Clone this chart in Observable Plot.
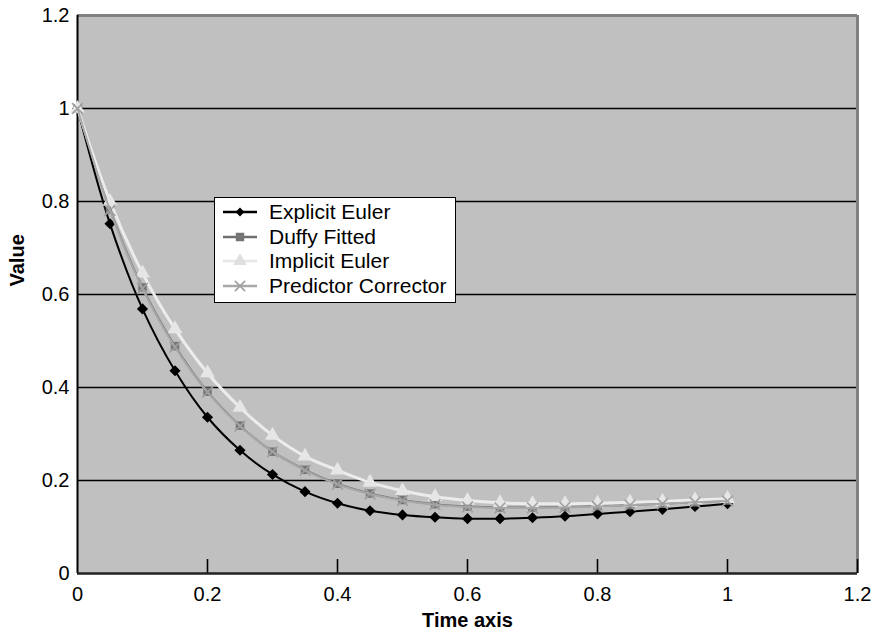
<!DOCTYPE html>
<html><head><meta charset="utf-8">
<script src="https://cdn.jsdelivr.net/npm/d3@7"></script>
<script src="https://cdn.jsdelivr.net/npm/@observablehq/plot@0.6"></script>
<style>
body{margin:0;background:#fff;font-family:"Liberation Sans",Arial,sans-serif}
#wrap{position:relative;width:875px;height:638px}
#legend{position:absolute;left:214px;top:197px;width:240px;height:102px;background:#fff;border:1.5px solid #000;padding-top:2px;box-sizing:content-box}
#legend .row{height:24.5px;display:flex;align-items:center;font-size:21px;color:#000;white-space:nowrap}
#legend svg{margin-left:8px;margin-right:12px;flex:none}
</style></head>
<body><div id="wrap"><div id="chart"></div><div id="legend"></div></div>
<script>
const times = [0,0.05,0.1,0.15,0.2,0.25,0.3,0.35,0.4,0.45,0.5,0.55,0.6,0.65,0.7,0.75,0.8,0.85,0.9,0.95,1];
const explicitEuler = [1,0.752,0.569,0.436,0.336,0.265,0.213,0.176,0.151,0.135,0.126,0.121,0.118,0.118,0.120,0.123,0.128,0.133,0.138,0.144,0.150];
const duffyFitted  = [1,0.783,0.615,0.489,0.391,0.318,0.262,0.223,0.193,0.172,0.158,0.149,0.144,0.142,0.142,0.143,0.145,0.147,0.150,0.153,0.157];
const implicitEuler = [1,0.800,0.646,0.526,0.431,0.357,0.297,0.252,0.222,0.196,0.178,0.165,0.157,0.152,0.150,0.150,0.151,0.153,0.155,0.158,0.161];
const predictorCorrector = [1,0.781,0.613,0.487,0.390,0.317,0.262,0.222,0.192,0.171,0.157,0.148,0.143,0.141,0.141,0.142,0.144,0.147,0.150,0.153,0.156];
const seriesNames = ["Explicit Euler","Duffy Fitted","Implicit Euler","Predictor Corrector"];
const xTicks = [0,0.2,0.4,0.6,0.8,1,1.2];
const yTicks = [0,0.2,0.4,0.6,0.8,1,1.2];
const gridY = [0.2,0.4,0.6,0.8,1];

const mk = arr => times.map((t,i)=>({t, v: arr[i]}));
const dE = mk(explicitEuler), dD = mk(duffyFitted), dI = mk(implicitEuler), dP = mk(predictorCorrector);
const fmt = d => String(+d.toFixed(1));

const chart = Plot.plot({
  width: 875, height: 638,
  marginLeft: 77, marginRight: 18, marginTop: 15, marginBottom: 65,
  style: {fontFamily: '"Liberation Sans", Arial, sans-serif', background: "#fff", color: "#000"},
  x: {domain: [0, 1.2]},
  y: {domain: [0, 1.2]},
  marks: [
    Plot.frame({fill: "#c0c0c0", stroke: null}),
    Plot.ruleY(gridY, {stroke: "#000", strokeWidth: 1.3}),
    Plot.ruleY([1.2], {stroke: "#808080", strokeWidth: 3}),
    Plot.ruleX([1.2], {stroke: "#808080", strokeWidth: 3}),
    Plot.ruleX(xTicks.slice(1), {y1: 0, y2: 0.03, stroke: "#000", strokeWidth: 1.6}),
    Plot.ruleX([0], {stroke: "#000", strokeWidth: 2}),
    Plot.ruleY([0], {stroke: "#222", strokeWidth: 2.5}),
    Plot.line(dE, {x: "t", y: "v", stroke: "#000", strokeWidth: 2, curve: "catmull-rom"}),
    Plot.dot(dE, {x: "t", y: "v", symbol: "diamond2", r: 5, fill: "#000"}),
    Plot.line(dD, {x: "t", y: "v", stroke: "#707070", strokeWidth: 2, curve: "catmull-rom"}),
    Plot.dot(dD, {x: "t", y: "v", symbol: "square", r: 4.8, fill: "#757575"}),
    Plot.line(dI, {x: "t", y: "v", stroke: "#ececec", strokeWidth: 3, curve: "catmull-rom"}),
    Plot.dot(dI, {x: "t", y: "v", symbol: "triangle", r: 5.5, fill: "#e6e6e6"}),
    Plot.line(dP, {x: "t", y: "v", stroke: "#a8a8a8", strokeWidth: 2, curve: "catmull-rom"}),
    Plot.dot(dP, {x: "t", y: "v", symbol: "times", r: 5, stroke: "#a0a0a0", strokeWidth: 1.6}),
    Plot.axisY({ticks: yTicks, tickSize: 0, tickPadding: 8, fontSize: 20, tickFormat: fmt, label: null}),
    Plot.axisX({ticks: xTicks, tickSize: 0, tickPadding: 13, fontSize: 20, tickFormat: fmt, label: null}),
    Plot.text(["Time axis"], {frameAnchor: "bottom", dy: 53, fontWeight: "bold", fontSize: 20, fill: "#000"}),
    Plot.text(["Value"], {frameAnchor: "left", dx: -60, dy: -8, rotate: -90, fontWeight: "bold", fontSize: 20, fill: "#000"})
  ]
});
document.getElementById("chart").appendChild(chart);

// legend
const styles = [
  {stroke: "#000", sym: d3.symbolDiamond2, size: 50, fill: "#000", sw: 2.4},
  {stroke: "#707070", sym: d3.symbolSquare, size: 72, fill: "#757575", sw: 2.4},
  {stroke: "#e6e6e6", sym: d3.symbolTriangle, size: 80, fill: "#e0e0e0", sw: 2.4},
  {stroke: "#a8a8a8", sym: d3.symbolTimes, size: 70, fill: "none", sw: 2.4, symStroke: "#a0a0a0"}
];
const legend = d3.select("#legend");
seriesNames.forEach((name, i) => {
  const s = styles[i];
  const row = legend.append("div").attr("class", "row");
  const svg = row.append("svg").attr("width", 34).attr("height", 14);
  svg.append("line").attr("x1", 0).attr("x2", 34).attr("y1", 7).attr("y2", 7)
    .attr("stroke", s.stroke).attr("stroke-width", s.sw);
  svg.append("path").attr("transform", "translate(17,7)")
    .attr("d", d3.symbol(s.sym, s.size)())
    .attr("fill", s.fill)
    .attr("stroke", s.symStroke || "none").attr("stroke-width", 1.6);
  row.append("span").text(name);
});
</script>
</body></html>
